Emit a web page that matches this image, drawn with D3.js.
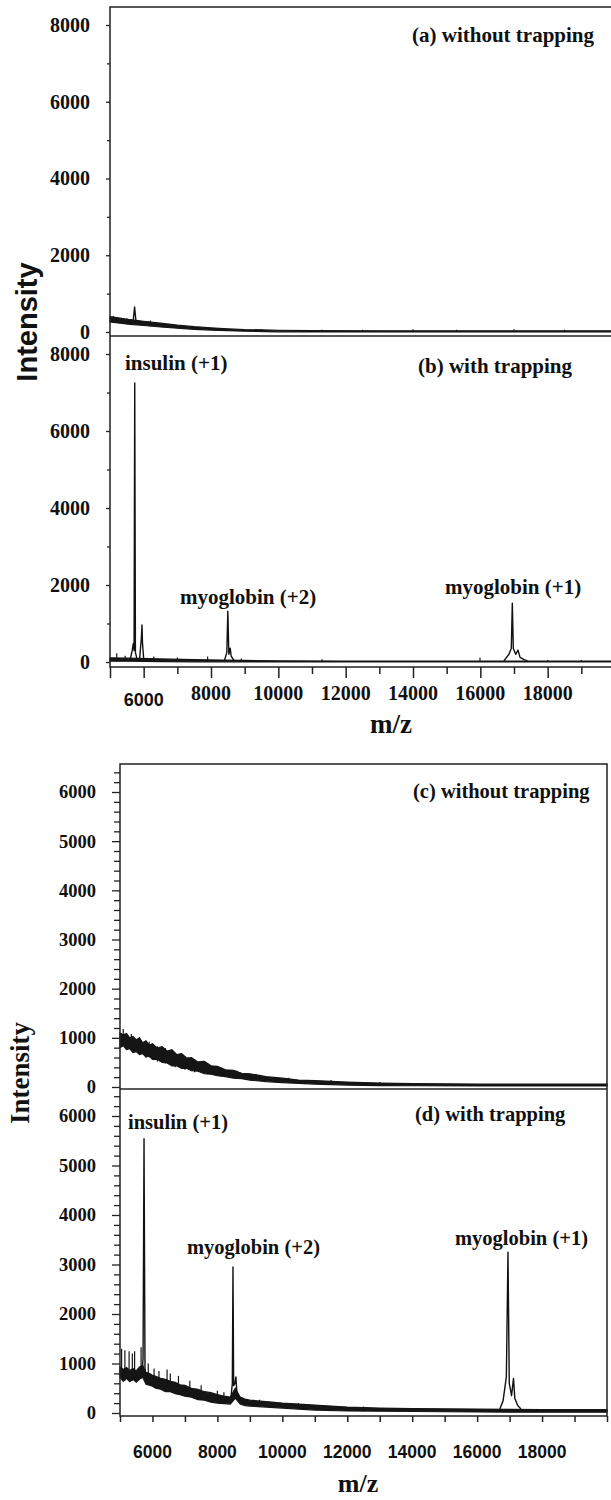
<!DOCTYPE html>
<html>
<head>
<meta charset="utf-8">
<script src="https://cdn.jsdelivr.net/npm/d3@7"></script>
<style>
  body { margin: 0; background: #fff; }
  svg { display: block; }
</style>
</head>
<body>
<script>
// tick values
var mzTicks = d3.range(5000, 20001, 1000);
var mzLabels = [6000, 8000, 10000, 12000, 14000, 16000, 18000];
var topMajor = [0, 2000, 4000, 6000, 8000];
var topMinor = [1000, 3000, 5000, 7000];
var botMajor = [0, 1000, 2000, 3000, 4000, 5000, 6000];

// spectra: bands are [m/z, low, high] noise envelopes, peaks are [m/z, intensity]
// (a) without trapping
var bandA = [[5000, 260, 400], [5300, 230, 360], [5600, 200, 320], [6000, 170, 280], [6500, 130, 230],
  [7000, 100, 180], [7500, 70, 140], [8000, 50, 110], [8500, 35, 85], [9000, 20, 65], [10000, 5, 45],
  [11000, 0, 35], [13000, 0, 30], [16000, 0, 30], [20000, 0, 30]];
var peaksA = [[[5690, 300], [5730, 650], [5770, 290]]];
var spikesA = [[5100, 250, 420], [5500, 200, 360], [6200, 150, 300], [9500, 0, 70], [11300, 0, 60],
  [12500, 0, 60], [14000, 0, 70], [15300, 0, 60], [17000, 0, 70], [18500, 0, 60]];

// (b) with trapping
var bandB = [[5000, 20, 110], [5500, 20, 100], [6500, 10, 80], [7500, 5, 60], [8300, 5, 50], [9000, 0, 40],
  [10000, 0, 30], [12000, 0, 25], [16500, 0, 25], [20000, 0, 25]];
var peaksB = [
  [[5600, 60], [5660, 300], [5690, 480], [5715, 300], [5735, 7250], [5755, 250], [5800, 80], [5880, 90],
   [5930, 600], [5950, 960], [5965, 500], [6000, 80]],
  [[8400, 40], [8470, 250], [8500, 1320], [8530, 200], [8570, 360], [8600, 150], [8680, 40]],
  [[16700, 30], [16850, 200], [16920, 360], [16950, 1530], [16980, 350], [17050, 200], [17120, 310],
   [17180, 120], [17300, 60], [17400, 30]]];
var spikesB = [[5200, 0, 230], [5450, 10, 160], [6300, 0, 140], [7000, 0, 120], [7900, 0, 140],
  [8900, 0, 90], [11300, 0, 70], [15990, 0, 110], [18000, 0, 50], [19000, 0, 50]];

// (c) without trapping
var bandC = [[5000, 800, 1100], [5100, 840, 1060], [5200, 760, 1090], [5300, 780, 1000], [5400, 700, 1030],
  [5500, 720, 960], [5600, 660, 1000], [5700, 680, 900], [5800, 610, 940], [5900, 630, 850], [6000, 560, 880],
  [6150, 560, 790], [6300, 500, 820], [6450, 490, 730], [6600, 430, 760], [6750, 430, 660], [6900, 380, 680],
  [7050, 380, 590], [7200, 330, 600], [7400, 320, 510], [7600, 270, 520], [7800, 260, 430], [8000, 230, 420],
  [8250, 210, 350], [8500, 180, 340], [8750, 170, 280], [9000, 140, 270], [9500, 110, 210], [10000, 90, 180],
  [10500, 75, 140], [11000, 60, 130], [12000, 40, 100], [13000, 30, 80], [14000, 25, 70], [16000, 20, 60],
  [18000, 20, 60], [20000, 20, 60]];
var peaksC = [];
var spikesC = [[5100, 850, 1180], [5350, 750, 1080], [5600, 680, 1000], [5900, 600, 920], [6150, 520, 830],
  [6400, 480, 790], [6700, 400, 680], [7000, 350, 620], [7300, 300, 540], [7700, 260, 480], [8100, 220, 400],
  [8600, 170, 330], [9200, 130, 260], [10200, 80, 190], [11500, 50, 140], [13000, 30, 100]];

// (d) with trapping
var bandD = [[5000, 720, 930], [5100, 640, 880], [5200, 700, 920], [5300, 630, 860], [5400, 680, 900],
  [5500, 620, 850], [5600, 680, 930], [5700, 720, 960], [5800, 580, 820], [5900, 560, 800], [6000, 540, 760],
  [6100, 500, 740], [6250, 480, 700], [6400, 430, 680], [6550, 430, 640], [6700, 390, 620], [6850, 370, 570],
  [7000, 340, 560], [7200, 320, 500], [7400, 270, 480], [7600, 260, 430], [7800, 220, 410], [8000, 200, 370],
  [8200, 190, 340], [8400, 180, 320], [8550, 300, 500], [8700, 180, 320], [8850, 150, 280], [9000, 140, 260],
  [9500, 120, 230], [10000, 100, 200], [10500, 80, 180], [11000, 60, 160], [12000, 40, 120], [13000, 35, 100],
  [14000, 30, 90], [16000, 20, 80], [18000, 15, 70], [20000, 15, 70]];
var peaksD = [
  [[5680, 800], [5710, 1100], [5740, 5540], [5770, 900], [5800, 700]],
  [[8420, 320], [8460, 600], [8480, 2950], [8500, 550], [8540, 600], [8570, 730], [8600, 400], [8700, 250]],
  [[16700, 80], [16800, 250], [16900, 730], [16950, 3250], [16990, 600], [17060, 350], [17120, 700],
   [17160, 300], [17250, 150], [17350, 80]]];
var spikesD = [[5050, 700, 1300], [5150, 650, 1270], [5280, 700, 1250], [5380, 650, 1200], [5450, 650, 1250],
  [5650, 700, 1330], [5870, 600, 1000], [6050, 550, 900], [6200, 500, 850], [6450, 450, 880], [6550, 450, 800],
  [6800, 400, 750], [7150, 350, 650], [7500, 280, 560], [8000, 220, 450], [8200, 200, 420], [9300, 120, 270],
  [10500, 80, 200], [12500, 30, 130]];

var serif = "'Liberation Serif', 'Times New Roman', serif";
var sans = "'Liberation Sans', Arial, sans-serif";

var svg = d3.select("body").append("svg")
  .attr("width", 611)
  .attr("height", 1500);

// scales
var xTop = d3.scaleLinear().domain([5000, 20000]).range([110, 615]);
var yA = d3.scaleLinear().domain([0, 8000]).range([332, 25]);
var yB = d3.scaleLinear().domain([0, 8000]).range([662, 354]);
var xBot = d3.scaleLinear().domain([5000, 20000]).range([120, 607]);
var yC = d3.scaleLinear().domain([0, 6000]).range([1087, 792]);
var yD = d3.scaleLinear().domain([0, 6000]).range([1413, 1116]);

function drawSpectrum(x, y, band, peaks, spikes) {
  var g = svg.append("g");
  var area = d3.area()
    .x(function(d) { return x(d[0]); })
    .y0(function(d) { return y(d[1]); })
    .y1(function(d) { return y(d[2]); });
  g.append("path")
    .datum(band)
    .attr("fill", "#151515")
    .attr("stroke", "#151515")
    .attr("stroke-width", 1.2)
    .attr("d", area);

  g.selectAll(".spike")
    .data(spikes)
    .enter().append("line")
    .attr("x1", function(d) { return x(d[0]); })
    .attr("x2", function(d) { return x(d[0]); })
    .attr("y1", function(d) { return y(d[1]); })
    .attr("y2", function(d) { return y(d[2]); })
    .attr("stroke", "#151515")
    .attr("stroke-width", 1.2);

  var line = d3.line()
    .x(function(d) { return x(d[0]); })
    .y(function(d) { return y(d[1]); });
  g.selectAll(".peak")
    .data(peaks)
    .enter().append("path")
    .attr("fill", "none")
    .attr("stroke", "#111")
    .attr("stroke-width", 1.4)
    .attr("stroke-linejoin", "round")
    .attr("d", line);
}

function yAxis(y, x0, major, minor, majLen, minLen, fontSize) {
  var g = svg.append("g").attr("transform", "translate(" + x0 + ",0)");
  g.call(d3.axisLeft(y).tickValues(major).tickSize(majLen).tickPadding(16)
    .tickFormat(d3.format("d")));
  g.append("g").call(d3.axisLeft(y).tickValues(minor).tickSize(minLen).tickFormat(""));
  g.selectAll(".domain").remove();
  g.selectAll("line").attr("stroke", "#222").attr("stroke-width", 1.3);
  g.selectAll("text")
    .style("font-family", serif)
    .style("font-weight", "bold")
    .style("font-size", fontSize + "px")
    .attr("fill", "#111");
  return g;
}

function label(txt, x, y, size, font) {
  svg.append("text")
    .attr("x", x)
    .attr("y", y)
    .style("font-family", font || serif)
    .style("font-weight", "bold")
    .style("font-size", size + "px")
    .attr("fill", "#111")
    .text(txt);
}

// ----- top figure -----
drawSpectrum(xTop, yA, bandA, peaksA, spikesA);
drawSpectrum(xTop, yB, bandB, peaksB, spikesB);

var frame = svg.append("g").attr("stroke", "#222").attr("stroke-width", 1.5).attr("fill", "none");
frame.append("rect").attr("x", 110).attr("y", 7).attr("width", 505).attr("height", 660);
frame.append("line").attr("x1", 110).attr("x2", 615).attr("y1", 336).attr("y2", 336);

yAxis(yA, 110, topMajor, topMinor, 4, 3, 20);
yAxis(yB, 110, topMajor, topMinor, 4, 3, 20);

var xa = svg.append("g").attr("transform", "translate(0,667)");
xa.call(d3.axisBottom(xTop).tickValues(mzTicks).tickSize(7).tickFormat(""));
xa.selectAll(".domain").remove();
xa.selectAll(".tick line")
  .attr("stroke", "#222").attr("stroke-width", 1.5)
  .attr("y2", function(d) { return d % 2000 === 0 || d === 5000 ? 11 : 7; });
xa.selectAll(".lbl")
  .data(mzLabels)
  .enter().append("text")
  .attr("x", function(d) { return xTop(d); })
  .attr("y", function(d) { return d === 6000 ? 39 : 33; })
  .attr("text-anchor", "middle")
  .style("font-family", function(d) { return d === 6000 ? sans : serif; })
  .style("font-weight", "bold")
  .style("font-size", function(d) { return d === 6000 ? "18px" : "20px"; })
  .attr("fill", "#111")
  .text(function(d) { return d; });

svg.append("text")
  .attr("transform", "translate(37,322) rotate(-90)")
  .attr("text-anchor", "middle")
  .style("font-family", sans)
  .style("font-weight", "bold")
  .style("font-size", "29px")
  .attr("fill", "#111")
  .text("Intensity");
svg.append("text")
  .attr("x", 391).attr("y", 733)
  .attr("text-anchor", "middle")
  .style("font-family", serif)
  .style("font-weight", "bold")
  .style("font-size", "27px")
  .attr("fill", "#111")
  .text("m/z");

label("(a) without trapping", 412, 42, 21);
label("insulin (+1)", 125, 370, 21);
label("(b) with trapping", 418, 373, 21);
label("myoglobin (+2)", 180, 604, 21);
label("myoglobin (+1)", 445, 594, 21);

// ----- bottom figure -----
drawSpectrum(xBot, yC, bandC, peaksC, spikesC);
drawSpectrum(xBot, yD, bandD, peaksD, spikesD);

var frame2 = svg.append("g").attr("stroke", "#222").attr("stroke-width", 1.5).attr("fill", "none");
frame2.append("rect").attr("x", 120).attr("y", 764).attr("width", 487).attr("height", 652);
frame2.append("line").attr("x1", 120).attr("x2", 607).attr("y1", 1089).attr("y2", 1089);

var minorC = d3.range(200, 6401, 200).filter(function(v) { return v % 1000 !== 0 && yC(v) > 766; });
var minorD = d3.range(200, 6401, 200).filter(function(v) { return v % 1000 !== 0 && yD(v) > 1091; });
yAxis(yC, 120, botMajor, minorC, 8, 6, 18.5);
yAxis(yD, 120, botMajor, minorD, 8, 6, 18.5);

var xb = svg.append("g").attr("transform", "translate(0,1416)");
xb.call(d3.axisBottom(xBot).tickValues(mzTicks).tickSize(6).tickFormat(""));
xb.selectAll(".domain").remove();
xb.selectAll(".tick line").attr("stroke", "#222").attr("stroke-width", 1.5);
xb.selectAll(".lbl")
  .data(mzLabels)
  .enter().append("text")
  .attr("x", function(d) { return xBot(d); })
  .attr("y", 42)
  .attr("text-anchor", "middle")
  .style("font-family", sans)
  .style("font-weight", "bold")
  .style("font-size", "17.5px")
  .attr("fill", "#111")
  .text(function(d) { return d; });

svg.append("text")
  .attr("transform", "translate(29,1073) rotate(-90)")
  .attr("text-anchor", "middle")
  .style("font-family", serif)
  .style("font-weight", "bold")
  .style("font-size", "27px")
  .attr("fill", "#111")
  .text("Intensity");
svg.append("text")
  .attr("x", 358).attr("y", 1492)
  .attr("text-anchor", "middle")
  .style("font-family", serif)
  .style("font-weight", "bold")
  .style("font-size", "26px")
  .attr("fill", "#111")
  .text("m/z");

label("(c) without trapping", 413, 798, 20.5);
label("(d) with trapping", 415, 1121, 20.5);
label("insulin (+1)", 128, 1129, 20.5);
label("myoglobin (+2)", 187, 1254, 20.5);
label("myoglobin (+1)", 455, 1245, 20.5);
</script>
</body>
</html>
